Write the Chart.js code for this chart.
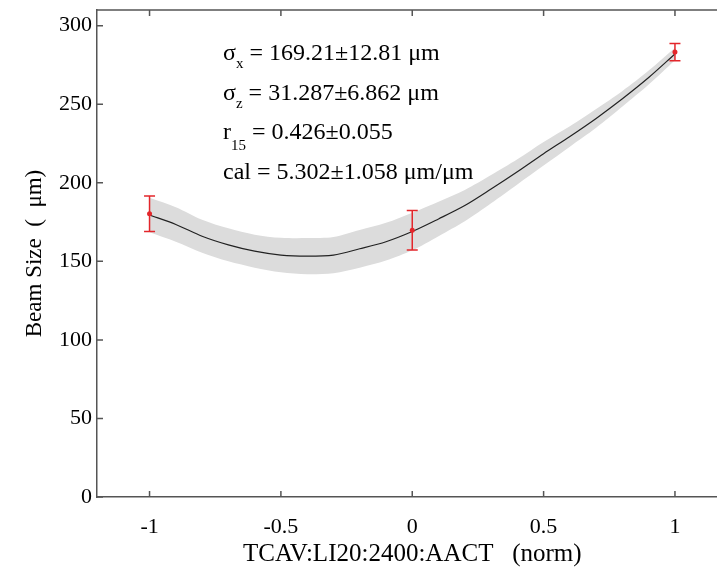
<!DOCTYPE html>
<html>
<head>
<meta charset="utf-8">
<script src="https://cdn.jsdelivr.net/npm/chart.js@4.4.1/dist/chart.umd.min.js"></script>
<style>
html, body { margin: 0; padding: 0; background: #fff; overflow: hidden; }
#wrap { width: 760px; height: 567px; }
</style>
</head>
<body>
<div id="wrap"><canvas id="beamChart" width="760" height="567"></canvas></div>
<script>
// fit curve and its error band
const fitX = [-1, -0.9, -0.8, -0.7, -0.6, -0.5, -0.4, -0.3, -0.2, -0.1, 0, 0.1, 0.2, 0.3, 0.4, 0.5, 0.6, 0.7, 0.8, 0.9, 1];
const fitY = [179.5, 173.5, 166, 160.5, 156.5, 154, 153.3, 154, 158, 162.5, 169, 177, 185.5, 196, 207, 218.5, 229.5, 241, 253.5, 267, 282];
const bandUpper = [190.5, 184.5, 176.5, 171, 167, 165, 164.8, 165.5, 170, 174.5, 181, 188, 195.5, 205, 215, 226, 236, 247, 258.5, 271.5, 286];
const bandLower = [168.5, 162.5, 155.5, 150, 146, 143, 141.8, 142.5, 146, 150.5, 157, 166, 175.5, 187, 199, 211, 223, 235, 248.5, 262.5, 278];

// measured points with error bars
const measX = [-1, 0, 1];
const measY = [180.3, 169.8, 283.2];
const measErr = [11.3, 12.6, 5.5];

const xTicks = [-1, -0.5, 0, 0.5, 1];
const yTicks = [0, 50, 100, 150, 200, 250, 300];

const fitLines = [
    { sym: 'σ', sub: 'x', rest: ' = 169.21±12.81 μm' },
    { sym: 'σ', sub: 'z', rest: ' = 31.287±6.862 μm' },
    { sym: 'r', sub: '15', rest: ' = 0.426±0.055' },
    { sym: 'cal = 5.302±1.058 μm/μm', sub: '', rest: '' }
];

const serif = "'Liberation Serif', 'DejaVu Serif', serif";
const axisColor = '#555';
const errColor = '#e3262b';

function pairs(xs, ys) {
    return xs.map((x, i) => ({ x: x, y: ys[i] }));
}

const frameTicks = {
    id: 'frameTicks',
    afterDraw(chart) {
        const { ctx, chartArea: a, scales } = chart;
        ctx.save();
        ctx.strokeStyle = axisColor;
        ctx.lineWidth = 1.5;
        ctx.beginPath();
        ctx.moveTo(a.left, a.top);
        ctx.lineTo(a.right, a.top);
        ctx.lineTo(a.right, a.bottom);
        const len = 6;
        xTicks.forEach(v => {
            const px = scales.x.getPixelForValue(v);
            ctx.moveTo(px, a.bottom); ctx.lineTo(px, a.bottom - len);
            ctx.moveTo(px, a.top); ctx.lineTo(px, a.top + len);
        });
        yTicks.forEach(v => {
            const py = scales.y.getPixelForValue(v);
            ctx.moveTo(a.left, py); ctx.lineTo(a.left + len, py);
            ctx.moveTo(a.right, py); ctx.lineTo(a.right - len, py);
        });
        ctx.stroke();
        ctx.restore();
    }
};

const errorBars = {
    id: 'errorBars',
    afterDatasetsDraw(chart) {
        const { ctx, scales } = chart;
        ctx.save();
        ctx.strokeStyle = errColor;
        ctx.lineWidth = 1.5;
        measX.forEach((x, i) => {
            const px = scales.x.getPixelForValue(x);
            const top = scales.y.getPixelForValue(measY[i] + measErr[i]);
            const bot = scales.y.getPixelForValue(measY[i] - measErr[i]);
            ctx.beginPath();
            ctx.moveTo(px, top); ctx.lineTo(px, bot);
            ctx.moveTo(px - 5.5, top); ctx.lineTo(px + 5.5, top);
            ctx.moveTo(px - 5.5, bot); ctx.lineTo(px + 5.5, bot);
            ctx.stroke();
            ctx.fillStyle = errColor;
            ctx.beginPath();
            ctx.arc(px, scales.y.getPixelForValue(measY[i]), 2.5, 0, Math.PI * 2);
            ctx.fill();
        });
        ctx.restore();
    }
};

const fitText = {
    id: 'fitText',
    afterDraw(chart) {
        const ctx = chart.ctx;
        ctx.save();
        ctx.fillStyle = '#000';
        ctx.textBaseline = 'alphabetic';
        let y = 60;
        fitLines.forEach(line => {
            let x = 223;
            ctx.font = '24px ' + serif;
            ctx.fillText(line.sym, x, y);
            x += ctx.measureText(line.sym).width;
            if (line.sub) {
                ctx.font = '15px ' + serif;
                ctx.fillText(line.sub, x, y + (line.sub.length > 1 ? 11 : 8));
                x += ctx.measureText(line.sub).width;
            }
            ctx.font = '24px ' + serif;
            ctx.fillText(line.rest, x, y);
            y += 39.5;
        });
        ctx.restore();
    }
};

const ctx = document.getElementById('beamChart').getContext('2d');
const chart = new Chart(ctx, {
    type: 'scatter',
    data: {
        datasets: [
            {
                label: 'band upper',
                data: pairs(fitX, bandUpper),
                showLine: true,
                borderWidth: 0,
                borderColor: 'rgba(0,0,0,0)',
                pointRadius: 0,
                tension: 0.3,
                fill: false
            },
            {
                label: 'band lower',
                data: pairs(fitX, bandLower),
                showLine: true,
                borderWidth: 0,
                borderColor: 'rgba(0,0,0,0)',
                backgroundColor: '#dcdcdc',
                pointRadius: 0,
                tension: 0.3,
                fill: '-1'
            },
            {
                label: 'fit',
                data: pairs(fitX, fitY),
                showLine: true,
                borderColor: '#222',
                borderWidth: 1.2,
                pointRadius: 0,
                tension: 0.3
            }
        ]
    },
    options: {
        responsive: false,
        animation: false,
        layout: { padding: { top: 10, right: 32.5, left: 0, bottom: 0 } },
        plugins: {
            legend: { display: false },
            tooltip: { enabled: false },
            filler: { drawTime: 'beforeDatasetsDraw' }
        },
        scales: {
            x: {
                type: 'linear',
                min: -1.2,
                max: 1.2,
                afterBuildTicks: s => { s.ticks = xTicks.map(v => ({ value: v })); },
                afterFit: s => { s.height = 70; },
                grid: { drawOnChartArea: false, drawTicks: false },
                border: { color: axisColor, width: 1.5 },
                ticks: {
                    color: '#000', padding: 17, maxRotation: 0,
                    font: { family: serif, size: 22 },
                    callback: v => String(v)
                },
                title: {
                    display: true,
                    text: 'TCAV:LI20:2400:AACT   (norm)',
                    color: '#000',
                    padding: 0,
                    font: { family: serif, size: 25, lineHeight: 1 }
                }
            },
            y: {
                min: 0,
                max: 310,
                afterBuildTicks: s => { s.ticks = yTicks.map(v => ({ value: v })); },
                afterFit: s => { s.width = 97; s.paddingTop = 0; s.paddingBottom = 0; },
                grid: { drawOnChartArea: false, drawTicks: false },
                border: { color: axisColor, width: 1.5 },
                ticks: { color: '#000', padding: 5, font: { family: serif, size: 22 } },
                title: {
                    display: true,
                    text: 'Beam Size  (  μm)',
                    color: '#000',
                    padding: { top: 23 },
                    font: { family: serif, size: 23, lineHeight: 1 }
                }
            }
        }
    },
    plugins: [errorBars, frameTicks, fitText]
});
</script>
</body>
</html>
